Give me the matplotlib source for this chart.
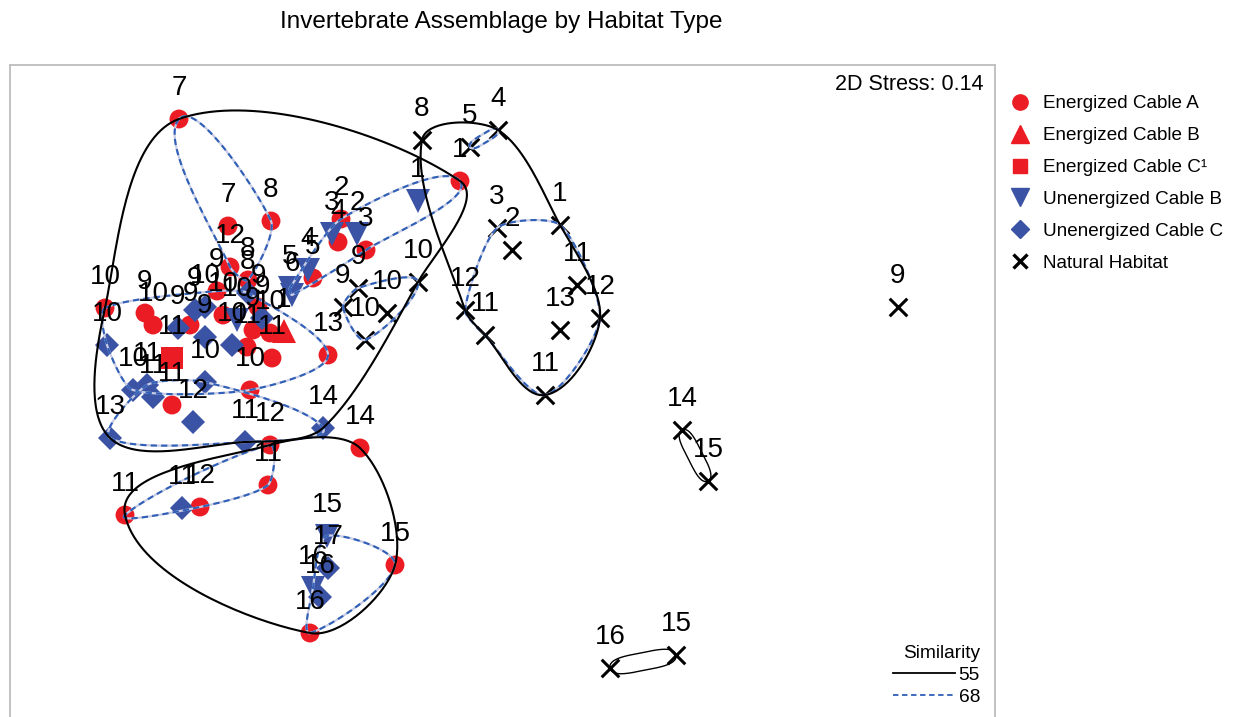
import numpy as np
import matplotlib
matplotlib.use("Agg")
import matplotlib.pyplot as plt
from matplotlib.lines import Line2D

plt.rcParams["font.family"] = ["Liberation Sans", "DejaVu Sans"]

# nMDS scores (arbitrary units) and sample labels for each habitat type
ec_a_x = [-3.21, -2.72, -2.29, -1.59, -1.62, -1.34, -1.87, -0.40, -2.70, -2.52,
          -2.83, -2.42, -2.77, -3.95, -3.55, -3.47, -3.10, -2.47, -2.30, -2.53,
          -2.28, -1.72, -2.50, -3.28, -2.30, -1.40, -3.75, -3.00, -2.32, -1.05, -1.90]
ec_a_y = [2.81, 1.74, 1.79, 1.81, 1.58, 1.50, 1.22, 2.19, 1.33, 1.20,
          1.09, 0.93, 0.85, 0.92, 0.87, 0.75, 0.75, 0.70, 0.67, 0.53,
          0.42, 0.45, 0.10, -0.05, -0.45, -0.48, -1.15, -1.07, -0.85, -1.65, -2.33]
ec_a_lab = ["7", "7", "8", "2", "4", "3", "5", "1", "12", "8",
            "9", "9", "10", "10", "9", "10", "9", "9", "10", "11",
            "11", "13", "10", "11", "12", "14", "11", "12", "11", "15", "16"]

ec_b_x = [-2.16]
ec_b_y = [0.69]
ec_b_lab = ["1"]

ec_c_x = [-3.28]
ec_c_y = [0.42]
ec_c_lab = ["11"]

uc_b_x = [-0.82, -1.68, -1.43, -1.92, -2.10, -2.08, -2.63, -1.73, -1.87]
uc_b_y = [1.99, 1.66, 1.66, 1.30, 1.12, 1.05, 0.80, -1.36, -1.88]
uc_b_lab = ["1", "3", "2", "4", "5", "6", "10", "15", "16"]

uc_c_x = [-2.52, -3.05, -2.95, -3.22, -2.95, -2.68, -2.38, -3.93, -3.67, -3.53,
          -3.47, -2.95, -3.07, -3.90, -1.77, -2.55, -3.18, -1.72, -1.80]
uc_c_y = [1.07, 0.90, 0.93, 0.72, 0.63, 0.55, 0.82, 0.55, 0.10, 0.15,
          0.03, 0.18, -0.22, -0.38, -0.28, -0.42, -1.08, -1.68, -1.97]
uc_c_lab = ["8", "9", "10", "9", "9", "10", "9", "10", "10", "11",
            "11", "10", "12", "13", "14", "11", "11", "17", "16"]

nat_x = [-0.78, -0.30, -0.02, -0.03, 0.12, 0.60, 0.77, 1.00, 0.60, -0.35, -0.15,
         0.45, -0.82, -1.42, -1.57, -1.13, -1.35, 3.98, 1.82, 2.08, 1.10, 1.76]
nat_y = [2.60, 2.53, 2.70, 1.72, 1.50, 1.75, 1.15, 0.82, 0.70, 0.90, 0.65,
         0.05, 1.18, 1.12, 0.93, 0.87, 0.60, 0.93, -0.30, -0.81, -2.68, -2.55]
nat_lab = ["8", "5", "4", "3", "2", "1", "11", "12", "13", "12", "11",
           "11", "10", "9", "9", "10", "10", "9", "14", "15", "16", "15"]

# cluster membership (index lists per habitat) at the two similarity levels
sim55 = [
    {"A": list(range(24)), "B": [0], "C": [0], "UB": list(range(7)),
     "UC": list(range(16)), "N": [12, 13, 14, 15, 16]},
    {"A": list(range(24, 31)), "UB": [7, 8], "UC": [16, 17, 18]},
    {"N": list(range(12))},
    {"N": [18, 19]},
    {"N": [20, 21]},
]
sim68 = [
    {"A": [0, 1, 2, 8, 9]},
    {"A": [3, 4, 5, 6, 7], "UB": [0, 1, 2, 3, 4, 5]},
    {"A": list(range(10, 23)), "B": [0], "C": [0], "UB": [6],
     "UC": [0, 1, 2, 3, 4, 5, 6, 7, 8]},
    {"A": [23], "UC": [9, 10, 11, 12, 13, 14, 15]},
    {"A": [24, 26, 27, 28], "UC": [16]},
    {"A": [29, 30], "UB": [7, 8], "UC": [17, 18]},
    {"N": list(range(3, 12))},
    {"N": [12, 13, 14, 15, 16]},
    {"N": [1, 2]},
]

red = "#EC1C24"
blue = "#3B53A4"
dash_blue = "#2F5FB6"

series = {
    "A": (ec_a_x, ec_a_y, ec_a_lab, dict(marker="o", s=185, color=red)),
    "B": (ec_b_x, ec_b_y, ec_b_lab, dict(marker="^", s=300, color=red)),
    "C": (ec_c_x, ec_c_y, ec_c_lab, dict(marker="s", s=250, color=red)),
    "UB": (uc_b_x, uc_b_y, uc_b_lab, dict(marker="v", s=300, color=blue)),
    "UC": (uc_c_x, uc_c_y, uc_c_lab, dict(marker="D", s=150, color=blue)),
    "N": (nat_x, nat_y, nat_lab, dict(marker="x", s=160, color="black", linewidths=2.2)),
}


def members(group):
    return np.array([[series[k][0][i], series[k][1][i]] for k, idx in group.items() for i in idx])


def hull(p):
    p = sorted(map(tuple, p))
    def cross(o, a, b):
        return (a[0] - o[0]) * (b[1] - o[1]) - (a[1] - o[1]) * (b[0] - o[0])
    lo, up = [], []
    for q in p:
        while len(lo) >= 2 and cross(lo[-2], lo[-1], q) <= 0:
            lo.pop()
        lo.append(q)
    for q in reversed(p):
        while len(up) >= 2 and cross(up[-2], up[-1], q) <= 0:
            up.pop()
        up.append(q)
    return np.array(lo[:-1] + up[:-1])


def smooth(P, c=1.0, n=40):
    # closed Hermite curve through the hull vertices
    m = len(P)
    d = []
    for i in range(m):
        v = P[(i + 1) % m] - P[i - 1]
        d.append(v / np.hypot(*v))
    t = np.linspace(0, 1, n, endpoint=False)[:, None]
    h00, h10 = 2 * t**3 - 3 * t**2 + 1, t**3 - 2 * t**2 + t
    h01, h11 = -2 * t**3 + 3 * t**2, t**3 - t**2
    out = []
    for i in range(m):
        p0, p1 = P[i], P[(i + 1) % m]
        L = np.hypot(*(p1 - p0)) * c
        out.append(h00 * p0 + h10 * d[i] * L + h01 * p1 + h11 * d[(i + 1) % m] * L)
    out = np.vstack(out)
    return np.vstack([out, out[:1]])


def outline(group, c):
    p = members(group)
    if len(p) == 2:
        a, b = p
        mid = (a + b) / 2
        nrm = np.array([-(b - a)[1], (b - a)[0]]) * 0.13
        return smooth(np.array([a, mid + nrm, b, mid - nrm]), c=0.9)
    return smooth(hull(p), c=c)


fig = plt.figure(figsize=(12.33, 7.17), dpi=100)
ax = fig.add_axes([10 / 1233, -10 / 717, 985 / 1233, 662 / 717])
ax.set_xlim(-4.90, 4.95)
ax.set_ylim(-3.27, 3.35)
ax.set_xticks([])
ax.set_yticks([])
for s in ax.spines.values():
    s.set_color("#BDBDBD")
    s.set_linewidth(1.3)

for key, (x, y, lab, kw) in series.items():
    ax.scatter(x, y, zorder=2, edgecolors="none" if kw["marker"] != "x" else None, **kw)
    for xi, yi, li in zip(x, y, lab):
        ax.annotate(li, (xi, yi), xytext=(0, 22.5), textcoords="offset points",
                    ha="center", va="center", fontsize=20, zorder=5)

for g in sim68:
    c = outline(g, 0.6)
    ax.plot(c[:, 0], c[:, 1], color="#C9CDE4", lw=1.6, zorder=3)
    ax.plot(c[:, 0], c[:, 1], color=dash_blue, lw=1.5, ls=(0, (3, 2)), zorder=3)

for g in sim55:
    c = outline(g, 0.85)
    lw = 1.5 if len(members(g)) > 2 else 1.0
    ax.plot(c[:, 0], c[:, 1], color="black", lw=lw, zorder=4)

ax.text(0.988, 0.971, "2D Stress: 0.14", transform=ax.transAxes,
        ha="right", va="center", fontsize=15.5)

fig.text(501 / 1233, 1 - 22 / 717, "Invertebrate Assemblage by Habitat Type",
         ha="center", va="center", fontsize=17.5)

handles = [
    Line2D([], [], ls="none", marker="o", color=red, markersize=11),
    Line2D([], [], ls="none", marker="^", color=red, markersize=13),
    Line2D([], [], ls="none", marker="s", color=red, markersize=10.5),
    Line2D([], [], ls="none", marker="v", color=blue, markersize=13),
    Line2D([], [], ls="none", marker="D", color=blue, markersize=9.5),
    Line2D([], [], ls="none", marker="x", color="black", markersize=10, mew=2.4),
]
labels = ["Energized Cable A", "Energized Cable B", "Energized Cable C\u00b9",
          "Unenergized Cable B", "Unenergized Cable C", "Natural Habitat"]
fig.legend(handles, labels, loc="upper left", bbox_to_anchor=(1011 / 1233, 1 - 95 / 717),
           frameon=False, borderaxespad=0, borderpad=0, fontsize=13.6,
           handlelength=0.9, handletextpad=0.78, labelspacing=0.78)

fig.legend(
    [Line2D([], [], color="black", lw=1.3),
     Line2D([], [], color=dash_blue, lw=1.3, ls=(0, (3, 2)))],
    ["55", "68"], title="Similarity", loc="lower right",
    bbox_to_anchor=(980 / 1233, 11 / 717), frameon=False, borderaxespad=0,
    borderpad=0, fontsize=13.8, title_fontsize=13.8, handlelength=3.2,
    handletextpad=0.2, labelspacing=0.25, alignment="right")

fig.savefig("out.png", dpi=100, facecolor="white")
